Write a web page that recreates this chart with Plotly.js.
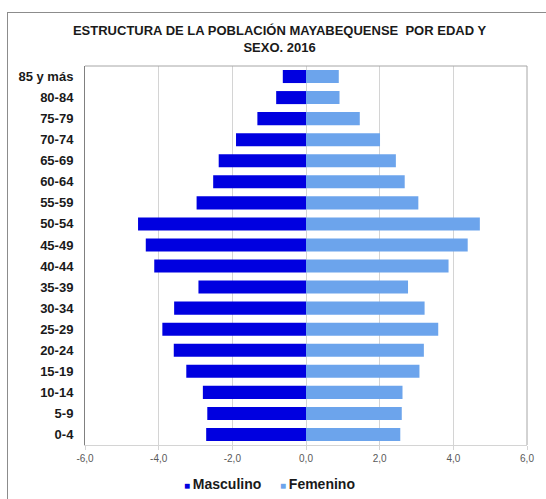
<!DOCTYPE html>
<html>
<head>
<meta charset="utf-8">
<script src="https://cdn.plot.ly/plotly-3.0.1.min.js"></script>
<style>
  html, body { margin: 0; padding: 0; background: #fff; overflow: hidden; }
  #wrap { position: relative; width: 546px; height: 499px; }
  #chart { position: absolute; left: 0; top: 0; width: 546px; height: 499px; }
  #frame { position: absolute; left: 7px; top: 12px; width: 600px; height: 600px;
           border: 1px solid #8c8c8c; pointer-events: none; }
</style>
</head>
<body>
<div id="wrap">
  <div id="chart"></div>
  <div id="frame"></div>
</div>
<script>
const ageGroups = ["0-4","5-9","10-14","15-19","20-24","25-29","30-34","35-39","40-44",
                   "45-49","50-54","55-59","60-64","65-69","70-74","75-79","80-84","85 y más"];
const masculino = [-2.71,-2.68,-2.80,-3.25,-3.59,-3.90,-3.58,-2.92,-4.12,
                   -4.35,-4.56,-2.97,-2.52,-2.37,-1.90,-1.32,-0.81,-0.63];
const femenino  = [2.56,2.60,2.62,3.08,3.20,3.59,3.22,2.77,3.87,
                   4.39,4.72,3.05,2.68,2.44,2.01,1.46,0.91,0.89];
const seriesNames = ["Masculino","Femenino"];
const seriesColors = ["#0000E0","#6CA4EC"];
const xTickVals = [-6,-4,-2,0,2,4,6];
const xTickText = ["-6,0","-4,0","-2,0","0,0","2,0","4,0","6,0"];

const traces = [
  { type: "bar", orientation: "h", name: seriesNames[0], y: ageGroups, x: masculino,
    marker: { color: seriesColors[0] }, hoverinfo: "skip" },
  { type: "bar", orientation: "h", name: seriesNames[1], y: ageGroups, x: femenino,
    marker: { color: seriesColors[1] }, hoverinfo: "skip" }
];

const legendFont = { size: 14, color: "#1a1a1a", family: "Liberation Sans, Arial, sans-serif" };
const legendX = [0.219, 0.436];
const legendAnnotations = seriesNames.map((n, i) => ({
  xref: "paper", yref: "paper", x: legendX[i], y: -0.103, xanchor: "left", yanchor: "middle",
  showarrow: false, font: legendFont,
  text: "<span style='color:" + seriesColors[i] + ";font-size:10px'>■ </span><b>" + n + "</b>"
}));

const layout = {
  width: 546, height: 499,
  margin: { l: 85, r: 19, t: 66, b: 54 },
  paper_bgcolor: "rgba(0,0,0,0)", plot_bgcolor: "#fff",
  font: { family: "Liberation Sans, Arial, sans-serif", color: "#1a1a1a" },
  title: {
    text: "<b>ESTRUCTURA DE LA POBLACIÓN MAYABEQUENSE  POR EDAD Y<br>SEXO. 2016</b>",
    font: { size: 13, color: "#1a1a1a" },
    x: 0.512, xref: "container", xanchor: "center",
    y: 0.929, yref: "container", yanchor: "top"
  },
  barmode: "overlay", bargap: 0.38,
  showlegend: false,
  annotations: legendAnnotations,
  xaxis: {
    range: [-6, 6], tickvals: xTickVals, ticktext: xTickText,
    tickfont: { size: 10, color: "#595959" },
    showgrid: true, gridcolor: "#d4d4d4", gridwidth: 1,
    zeroline: false, showline: true, linecolor: "#d4d4d4", linewidth: 1,
    ticks: "outside", ticklen: 4, tickcolor: "#d4d4d4", fixedrange: true
  },
  yaxis: {
    type: "category", categoryorder: "array", categoryarray: ageGroups,
    tickfont: { size: 13, color: "#1a1a1a", weight: "bold" },
    showgrid: false, zeroline: false, showline: true, linecolor: "#808080", linewidth: 1,
    ticks: "", ticklabelstandoff: 8, fixedrange: true
  },
  shapes: [
    { type: "line", xref: "paper", yref: "paper", x0: 0, x1: 1, y0: 1, y1: 1,
      line: { color: "#a6a6a6", width: 1 } },
    { type: "line", xref: "paper", yref: "paper", x0: 1, x1: 1, y0: 0, y1: 1,
      line: { color: "#a6a6a6", width: 1 } }
  ]
};

Plotly.newPlot("chart", traces, layout, { displayModeBar: false, staticPlot: true });
</script>
</body>
</html>
